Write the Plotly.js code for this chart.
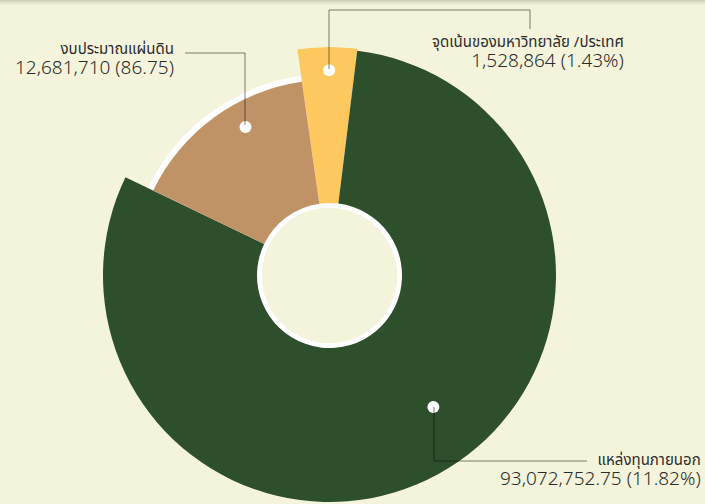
<!DOCTYPE html>
<html>
<head>
<meta charset="utf-8">
<script src="https://cdn.plot.ly/plotly-3.0.1.min.js"></script>
<style>html,body{margin:0;padding:0;background:#F4F4DC;}#chart{width:705px;height:504px;}</style>
</head>
<body>
<div id="chart"></div>
<script>
// ---- data ----
const labels = ['จุดเน้นของมหาวิทยาลัย /ประเทศ', 'แหล่งทุนภายนอก', 'งบประมาณแผ่นดิน'];
const amounts = ['1,528,864', '93,072,752.75', '12,681,710'];
const pctLabels = ['(1.43%)', '(11.82%)', '(86.75)'];
const angularShare = [4.2, 80.2, 15.6];   // share of the circle as drawn (%)
const outerRadius = [230, 228, 197];      // outer radius as drawn
const colors = ['#FDC95E', '#2E4F2C', '#C09366'];

// ---- geometry / style ----
const W = 705, H = 504;
const holeR = 68, ringW = 5, rMax = 230, backR = 203;
const px = x => x / W, py = y => 1 - y / H;

const widths = angularShare.map(s => s * 3.6);
const thetas = [];
let acc = 0;
widths.forEach(w => { thetas.push(acc + w / 2); acc += w; });

const backdrop = {
  type: 'barpolar', r: [backR - holeR, backR - holeR], base: [holeR, holeR],
  theta: [90, 270], width: [180, 180],
  marker: {color: '#FFFFFF', line: {width: 0}}, hoverinfo: 'skip', showlegend: false
};
const slices = {
  type: 'barpolar',
  r: outerRadius.map(r => r - holeR - ringW),
  base: outerRadius.map(() => holeR + ringW),
  theta: thetas, width: widths,
  marker: {color: colors, line: {width: 0}},
  text: labels, hoverinfo: 'text', showlegend: false
};
// marker dots (positions, theta clockwise from start edge)
const dots = {
  type: 'scatterpolar', mode: 'markers',
  r: [206.5, 168.7, 171.7], theta: [8.0, 149.8, 338.6],
  marker: {color: '#FFFFFF', size: 12, line: {width: 0}},
  hoverinfo: 'skip', showlegend: false
};

const lineStyle = {color: 'rgba(0,0,0,0.5)', width: 1};
function path(pts) {
  return pts.map((p, i) => (i ? 'L' : 'M') + px(p[0]) + ',' + py(p[1])).join(' ');
}
const shapes = [
  {type: 'path', xref: 'paper', yref: 'paper', path: path([[245,125],[245,53],[185,53]]), line: lineStyle},
  {type: 'path', xref: 'paper', yref: 'paper', path: path([[329,69],[329,10],[530,10],[530,29]]), line: lineStyle},
  {type: 'path', xref: 'paper', yref: 'paper', path: path([[434,407],[434,461],[587,461]]), line: lineStyle}
];
// top shadow band
const shadeOp = [0.28, 0.2, 0.13, 0.08, 0.04, 0.02];
shadeOp.forEach((o, i) => shapes.push({
  type: 'rect', xref: 'paper', yref: 'paper', x0: 0, x1: 1, y0: py(i + 1), y1: py(i),
  fillcolor: 'rgba(110,110,90,' + o + ')', line: {width: 0}, layer: 'above'
}));

const labelFont = {family: 'Noto Sans, Noto Sans Thai, sans-serif', size: 15, color: '#2b2b2b'};
const labelPos = [[626, 52], [703, 470], [176, 59]];   // right edge, vertical centre of the 2-line block
const annotations = labels.map((t, i) => ({
  xref: 'paper', yref: 'paper', x: px(labelPos[i][0]), y: py(labelPos[i][1]),
  xanchor: 'right', yanchor: 'middle', align: 'right', showarrow: false, font: labelFont,
  text: t + '<br><span style="font-size:19px;font-weight:300">' + amounts[i] + ' ' + pctLabels[i] + '</span>'
}));

const cx = 329.5, cyFromBottom = 228.5, R = 228.5;
const layout = {
  width: W, height: H, margin: {l: 0, r: 0, t: 0, b: 0},
  paper_bgcolor: '#F4F4DC', plot_bgcolor: '#F4F4DC', showlegend: false,
  polar: {
    domain: {x: [(cx - R) / W, (cx + R) / W], y: [0, (cyFromBottom + R) / H]},
    bgcolor: 'rgba(0,0,0,0)', barmode: 'overlay', bargap: 0,
    hole: holeR / rMax,
    radialaxis: {visible: false, range: [holeR, rMax], showgrid: false},
    angularaxis: {visible: false, direction: 'clockwise', rotation: 98.1, showgrid: false}
  },
  shapes: shapes, annotations: annotations
};
Plotly.newPlot('chart', [backdrop, slices, dots], layout, {displayModeBar: false, staticPlot: true});
</script>
</body>
</html>
